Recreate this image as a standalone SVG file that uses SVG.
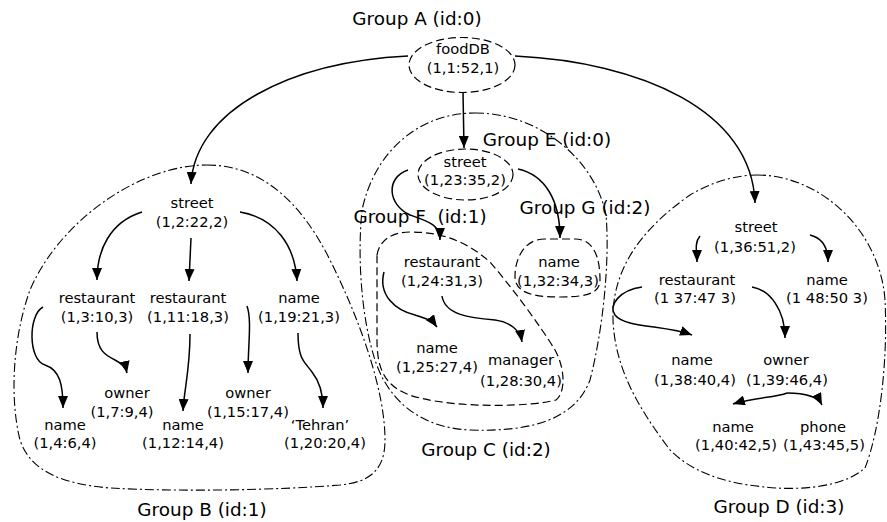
<svg xmlns="http://www.w3.org/2000/svg" width="887" height="522" viewBox="0 0 887 522">
<style>
text{font-family:"DejaVu Sans","Liberation Sans",sans-serif;fill:#000;text-anchor:middle}
.n{font-size:14.7px}
.g{font-size:18.4px}
.dd{fill:none;stroke:#000;stroke-width:1.1;stroke-dasharray:9 3 2 3}
.ds{fill:none;stroke:#000;stroke-width:1.2;stroke-dasharray:8 4}
.e{fill:none;stroke:#000;stroke-width:1.5;marker-end:url(#ah)}
</style>
<defs>
<marker id="ah" markerWidth="12" markerHeight="10" refX="12" refY="5" orient="auto" markerUnits="userSpaceOnUse">
<path d="M0,0 L12,5 L0,10 Z" fill="#000"/>
</marker>
</defs>
<rect width="887" height="522" fill="#fff"/>

<!-- group outlines -->
<g id="groupB">
<path class="dd" d="M207,165 C260,165 300,200 330,260 C360,320 385,390 385,440 C385,470 370,482 340,485 C280,490 180,492 110,488 C60,484 30,470 20,440 C10,400 12,340 30,290 C60,220 140,165 207,165 Z"/>
<text class="g" x="202" y="516">Group B (id:1)</text>
</g>
<g id="groupC">
<path class="dd" d="M475,113 C540,113 595,160 606,215 C610,260 603,330 590,380 C575,420 530,432 470,430 C420,428 388,400 375,360 C362,320 357,260 362,210 C375,150 420,113 475,113 Z"/>
<text class="g" x="486" y="456">Group C (id:2)</text>
</g>
<g id="groupD">
<path class="dd" d="M757,175 C820,175 880,230 885,300 C888,360 880,430 865,468 C840,490 790,490 765,487 C720,483 690,470 670,450 C640,410 615,370 613,320 C612,270 640,230 690,195 C715,180 740,175 757,175 Z"/>
<text class="g" x="779" y="513">Group D (id:3)</text>
</g>
<g id="groupF">
<path class="ds" d="M377,255 C380,238 395,232 410,232 C440,232 465,240 490,262 C510,285 540,325 555,350 C565,368 566,392 556,400 C530,407 460,408 420,398 C385,390 377,370 377,340 Z"/>
<text class="g" x="420" y="223" style="white-space:pre">Group F  (id:1)</text>
</g>
<g id="groupG">
<path class="ds" d="M545,239 C522,239 515,262 515,276 C515,292 530,297 560,297 C590,297 600,292 600,280 C600,262 596,239 575,239 Z"/>
<text class="g" x="585" y="214">Group G (id:2)</text>
</g>

<!-- connectors -->
<g id="connectors">
<path class="e" d="M408,56 C290,62 195,110 191,184"/>
<path class="e" d="M515,56 C640,62 752,110 755,203"/>
<path class="e" d="M463,92 L464,148"/>
<path class="e" d="M142,212 C110,222 97,250 97,280"/>
<path class="e" d="M191,238 L189,281"/>
<path class="e" d="M240,212 C275,218 295,245 297,281"/>
<path class="e" d="M43,307 C28,315 28,360 45,365 C60,370 63,385 63,408"/>
<path class="e" d="M97,332 C97,350 105,355 115,360 C123,364 126,368 127,373"/>
<path class="e" d="M190,334 C190,370 184,390 183,411"/>
<path class="e" d="M247,306 C252,320 248,345 248,373"/>
<path class="e" d="M298,333 C298,360 305,362 312,372 C320,382 323,395 323,408"/>
<path class="e" d="M408,170 C385,178 388,205 410,215 C430,222 440,225 440,240"/>
<path class="e" d="M518,169 C545,175 560,200 560,238"/>
<path class="e" d="M384,272 C378,295 395,310 415,315 C425,318 432,320 437,327"/>
<path class="e" d="M442,296 C445,315 470,318 495,320 C510,322 520,330 522,342"/>
<path class="e" d="M700,236 C694,243 697,252 697,262"/>
<path class="e" d="M810,235 C822,238 828,248 828,262"/>
<path class="e" d="M642,287 C620,290 608,305 615,315 C625,328 665,325 692,335"/>
<path class="e" d="M752,287 C770,290 785,310 785,338"/>
<path class="e" d="M787,393 C775,398 755,397 733,404"/>
<path class="e" d="M787,393 C805,393 818,397 822,405"/>
</g>

<!-- nodes -->
<g id="foodDB">
<text class="g" x="417" y="25">Group A (id:0)</text>
<ellipse class="ds" cx="462" cy="65" rx="53" ry="27.5"/>
<text class="n" x="463" y="54">foodDB</text>
<text class="n" x="463" y="73">(1,1:52,1)</text>
</g>
<g id="street_1_2">
<text class="n" x="192" y="208">street</text>
<text class="n" x="192" y="227">(1,2:22,2)</text>
</g>
<g id="restaurant_1_3">
<text class="n" x="97" y="303">restaurant</text>
<text class="n" x="97" y="322">(1,3:10,3)</text>
</g>
<g id="restaurant_1_11">
<text class="n" x="188" y="303">restaurant</text>
<text class="n" x="188" y="322">(1,11:18,3)</text>
</g>
<g id="name_1_19">
<text class="n" x="299" y="303">name</text>
<text class="n" x="299" y="322">(1,19:21,3)</text>
</g>
<g id="name_1_4">
<text class="n" x="65" y="430">name</text>
<text class="n" x="65" y="448">(1,4:6,4)</text>
</g>
<g id="owner_1_7">
<text class="n" x="127" y="398">owner</text>
<text class="n" x="122" y="417">(1,7:9,4)</text>
</g>
<g id="name_1_12">
<text class="n" x="183" y="430">name</text>
<text class="n" x="183" y="448">(1,12:14,4)</text>
</g>
<g id="owner_1_15">
<text class="n" x="248" y="398">owner</text>
<text class="n" x="248" y="417">(1,15:17,4)</text>
</g>
<g id="tehran_1_20">
<text class="n" x="320" y="430">‘Tehran’</text>
<text class="n" x="325" y="448">(1,20:20,4)</text>
</g>
<g id="street_1_23">
<ellipse class="ds" cx="465.5" cy="174.5" rx="47.5" ry="25.5"/>
<text class="g" x="547" y="146">Group E (id:0)</text>
<text class="n" x="465" y="167">street</text>
<text class="n" x="465" y="185">(1,23:35,2)</text>
</g>
<g id="restaurant_1_24">
<text class="n" x="442" y="267">restaurant</text>
<text class="n" x="442" y="286">(1,24:31,3)</text>
</g>
<g id="name_1_32">
<text class="n" x="559" y="267">name</text>
<text class="n" x="558" y="286">(1,32:34,3)</text>
</g>
<g id="name_1_25">
<text class="n" x="437" y="353">name</text>
<text class="n" x="437" y="372">(1,25:27,4)</text>
</g>
<g id="manager_1_28">
<text class="n" x="521" y="365">manager</text>
<text class="n" x="521" y="386">(1,28:30,4)</text>
</g>
<g id="street_1_36">
<text class="n" x="756" y="232">street</text>
<text class="n" x="755" y="252">(1,36:51,2)</text>
</g>
<g id="restaurant_1_37">
<text class="n" x="697" y="285">restaurant</text>
<text class="n" x="695" y="303">(1 37:47 3)</text>
</g>
<g id="name_1_48">
<text class="n" x="827" y="285">name</text>
<text class="n" x="827" y="303">(1 48:50 3)</text>
</g>
<g id="name_1_38">
<text class="n" x="692" y="365">name</text>
<text class="n" x="695" y="385">(1,38:40,4)</text>
</g>
<g id="owner_1_39">
<text class="n" x="786" y="365">owner</text>
<text class="n" x="787" y="385">(1,39:46,4)</text>
</g>
<g id="name_1_40">
<text class="n" x="733" y="432">name</text>
<text class="n" x="736" y="450">(1,40:42,5)</text>
</g>
<g id="phone_1_43">
<text class="n" x="823" y="432">phone</text>
<text class="n" x="824" y="450">(1,43:45,5)</text>
</g>
</svg>
